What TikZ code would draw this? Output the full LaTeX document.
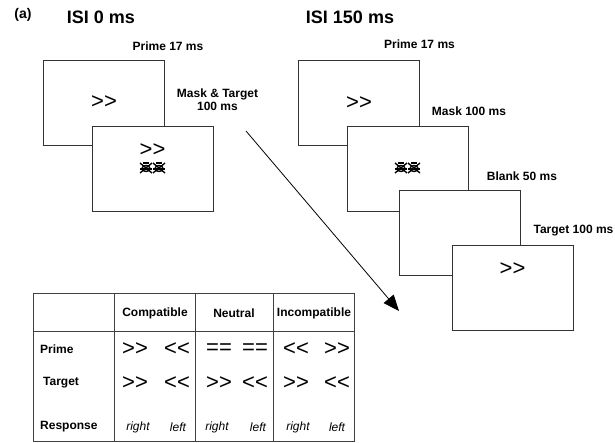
\documentclass[tikz,border=0pt]{standalone}
\usepackage{fontspec}
\setmainfont{Liberation Sans}[Ligatures=TeXOff]
\usepackage{tikz}
\usetikzlibrary{arrows.meta}

% scribbled mask, drawn at a point
\newcommand{\maskscribble}[1]{%
  \begin{scope}[shift={#1}, line width=1.4pt]
    \foreach \dx in {-6.5,6.5} {
      \draw (\dx-6,-5) -- (\dx+6,5) (\dx-6,5) -- (\dx+6,-5);
      \draw (\dx,0.5) ellipse (4 and 3);
      \draw (\dx-6,1) -- (\dx+6,1);
      \draw (\dx-3,-5) -- (\dx+3,-5);
    }
  \end{scope}}

\begin{document}
\begin{tikzpicture}[x=1pt, y=-1pt,
  screen/.style={draw=black!80, line width=0.8pt, fill=white,
    minimum width=121pt, minimum height=85pt, inner sep=0pt},
  durtext/.style={font=\fontsize{12}{13}\selectfont\bfseries, align=center, inner sep=0pt},
  isitext/.style={font=\fontsize{18}{20}\selectfont\bfseries, inner sep=0pt},
  chevtext/.style={font=\fontsize{22}{22}\selectfont, inner sep=0pt},
  tabline/.style={draw=black!75, line width=0.8pt},
  cell/.style={font=\fontsize{12}{13}\selectfont\bfseries, inner sep=0pt},
  resp/.style={font=\fontsize{12}{13}\selectfont\itshape, inner sep=0pt}]

\useasboundingbox (0,0) rectangle (615,443);

%%% headings %%%
\node[isitext, font=\fontsize{14}{16}\selectfont\bfseries] (panel) at (23,15) {(a)};
\node[isitext] (isi0) at (101,17) {ISI 0 ms};
\node[isitext] (isi150) at (350,17) {ISI 150 ms};

%%% ISI 0 ms %%%
\node[screen] (lprime) at (104,102.5) {};
\node[chevtext] at (lprime.center) {>>};
\node[screen] (lmask) at (152.5,168.5) {};
\node[chevtext] (ltarget) at (152.5,150) {>>};
\maskscribble{(152.5,168)}
\node[durtext] (lprimedur) at (168,46) {Prime 17 ms};
\node[durtext] (lmaskdur) at (217.5,100) {Mask \& Target\\100 ms};

%%% ISI 150 ms %%%
\node[screen] (rprime) at (359,103) {};
\node[chevtext] at (rprime.center) {>>};
\node[screen] (rmask) at (407.5,168.5) {};
\maskscribble{(407.5,168)}
\node[screen] (rblank) at (460,233) {};
\node[screen] (rtarget) at (512.5,288) {};
\node[chevtext] at (512.5,269) {>>};
\node[durtext] (rprimedur) at (419.5,44) {Prime 17 ms};
\node[durtext] (rmaskdur) at (469,111) {Mask 100 ms};
\node[durtext] (rblankdur) at (522,176) {Blank 50 ms};
\node[durtext] (rtargetdur) at (573.5,231) {Target 100 ms};

%% time arrow
\coordinate (tstart) at (246,131);
\coordinate (tend) at (399,311);
\draw[-{Triangle[length=16pt,width=13pt]}, line width=0.8pt] (tstart) -- (tend);

%%% table %%%
\draw[tabline] (33,293) rectangle (354,441);
\draw[tabline] (33,331) -- (354,331);
\foreach \x in {114,195,273}
  \draw[tabline] (\x,293) -- (\x,441);

\node[cell] (hcomp) at (155,313) {Compatible};
\node[cell] (hneut) at (234,313) {Neutral};
\node[cell] (hinc) at (314,313) {Incompatible};

\node[cell, anchor=west] (rowprime) at (40,349) {Prime};
\node[cell, anchor=west] (rowtarget) at (43,383) {Target};
\node[cell, anchor=west] (rowresp) at (40,427) {Response};

%% prime row
\foreach \x/\s [count=\i] in {135/>>, 177/<<, 219/==, 255/==, 296/<<, 337/>>}
  \node[chevtext] (p\i) at (\x,349) {\s};
%% target row
\foreach \x/\s [count=\i] in {135/>>, 177/<<, 219/>>, 255/<<, 296/>>, 337/<<}
  \node[chevtext] (t\i) at (\x,383) {\s};
%% response row
\foreach \x/\s [count=\i] in {138/right, 178/left, 217/right, 258/left, 298/right, 337/left}
  \node[resp] (r\i) at (\x,427) {\s};

\end{tikzpicture}
\end{document}
